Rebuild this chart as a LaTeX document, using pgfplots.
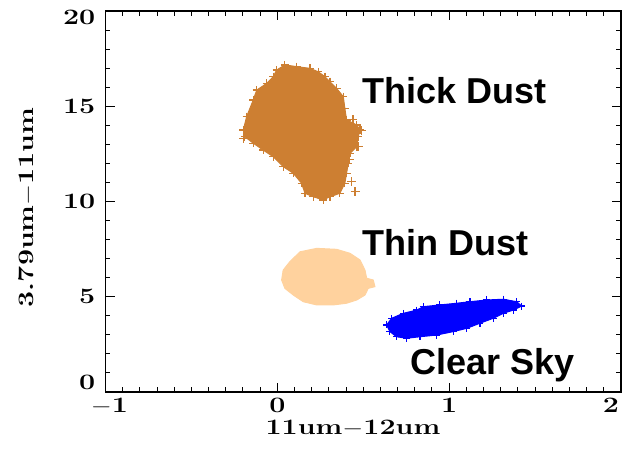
\documentclass[border=0pt]{standalone}
\usepackage{fontspec}
\usepackage{graphicx}
\usepackage{pgfplots}
\pgfplotsset{compat=1.18}
\newfontfamily\lab{Liberation Sans}
\definecolor{thickc}{RGB}{205,127,50}
\definecolor{thinc}{RGB}{255,210,158}
\definecolor{clearc}{RGB}{0,0,255}
\newcommand\tl[1]{\scalebox{1.3}[1]{\fontsize{22}{22}\selectfont\bfseries #1}}
\begin{document}
\begin{tikzpicture}
\begin{axis}[
  scale only axis, width=515.5pt, height=381pt,
  xmin=-1, xmax=2, ymin=0, ymax=20,
  axis line style={line width=1.1pt, black},
  tick style={line width=1pt, black},
  major tick length=9pt, minor tick length=5pt,
  tick align=inside,
  xtick={-1,0,1,2},
  xticklabels={\hspace*{8pt}\tl{$-$1},\tl{0},\tl{1},\tl{2}\hspace*{20pt}},
  ytick={0,5,10,15,20},
  yticklabels={\raisebox{10pt}[\height][\depth]{\tl{0}},\tl{5},\tl{10},\tl{15},\raisebox{-6pt}[\height][\depth]{\tl{20}}},
  minor x tick num=9, minor y tick num=4,
  xticklabel style={inner sep=0pt, anchor=north, yshift=-6pt},
  yticklabel style={inner sep=0pt, anchor=east, xshift=-10pt},
  xlabel={\tl{11um$-$12um}}, ylabel={\tl{3.79um$-$11um}},
  x label style={at={(axis description cs:0.48,-0.094)}, anchor=center, inner sep=0pt},
  y label style={at={(axis description cs:-0.152,0.485)}, anchor=center, inner sep=0pt, rotate=0},
  clip=false,
]
% Thick Dust
\addplot[color=thickc, fill=thickc, line width=1pt, mark=+, mark size=4pt, mark options={line width=1.2pt}] coordinates {
(-0.004,16.90) (0.044,17.17) (0.112,17.08) (0.190,16.99) (0.238,16.81) (0.277,16.55)
(0.306,16.29) (0.345,15.94) (0.384,15.50) (0.393,14.89) (0.403,14.28) (0.462,14.02)
(0.481,13.75) (0.471,13.40) (0.462,12.88) (0.423,12.53) (0.413,12.01) (0.403,11.48)
(0.393,10.96) (0.364,10.43) (0.306,10.25) (0.267,10.08) (0.209,10.25) (0.161,10.43)
(0.141,10.96) (0.093,11.48) (0.034,11.83) (-0.024,12.35) (-0.082,12.70) (-0.140,13.06)
(-0.189,13.40) (-0.198,13.75) (-0.179,14.45) (-0.140,15.33) (-0.120,15.85) (-0.062,16.20)
(-0.024,16.55)} -- cycle;
\addplot[color=thickc, only marks, mark=+, mark size=4.5pt, mark options={line width=1.2pt}] coordinates {
(0.491,13.72) (0.432,11.04) (0.452,10.51) (-0.198,13.32) (0.42,12.2) (0.44,14.3) (0.47,12.9)};
% Thin Dust
\addplot[color=thinc, fill=thinc, line width=1pt] coordinates {
(0.132,7.36) (0.229,7.54) (0.345,7.49) (0.423,7.28) (0.481,6.93) (0.510,6.40)
(0.520,5.97) (0.558,5.88) (0.568,5.53) (0.529,5.44) (0.510,5.09) (0.462,4.83)
(0.403,4.66) (0.325,4.57) (0.229,4.57) (0.151,4.74) (0.093,5.09) (0.044,5.44)
(0.025,5.88) (0.034,6.40) (0.073,6.84)} -- cycle;
% Clear Sky
\addplot[color=clearc, fill=clearc, line width=1pt, mark=+, mark size=3.5pt, mark options={line width=1.2pt}] coordinates {
(0.636,3.52) (0.665,3.87) (0.733,4.13) (0.811,4.30) (0.849,4.48) (0.946,4.57)
(1.044,4.66) (1.121,4.74) (1.218,4.83) (1.315,4.87) (1.393,4.74) (1.422,4.51)
(1.373,4.30) (1.315,4.13) (1.257,3.87) (1.179,3.61) (1.102,3.34) (1.024,3.17)
(0.927,2.99) (0.830,2.90) (0.753,2.82) (0.694,2.90) (0.655,3.17)} -- cycle;
\node[anchor=base west, inner sep=0pt, font=\lab\bfseries\fontsize{36}{36}\selectfont] at (axis cs:0.492,15.17) {Thick Dust};
\node[anchor=base west, inner sep=0pt, font=\lab\bfseries\fontsize{36}{36}\selectfont] at (axis cs:0.492,7.19) {Thin Dust};
\node[anchor=base west, inner sep=0pt, font=\lab\bfseries\fontsize{36}{36}\selectfont] at (axis cs:0.772,0.93) {Clear Sky};
\coordinate (bl) at (rel axis cs:0,0);
\coordinate (tr) at (rel axis cs:1,1);
\end{axis}
\pgfresetboundingbox
\path[use as bounding box] ([xshift=-105.5pt,yshift=-64pt]bl) rectangle ([xshift=8pt,yshift=11pt]tr);
\end{tikzpicture}
\end{document}
